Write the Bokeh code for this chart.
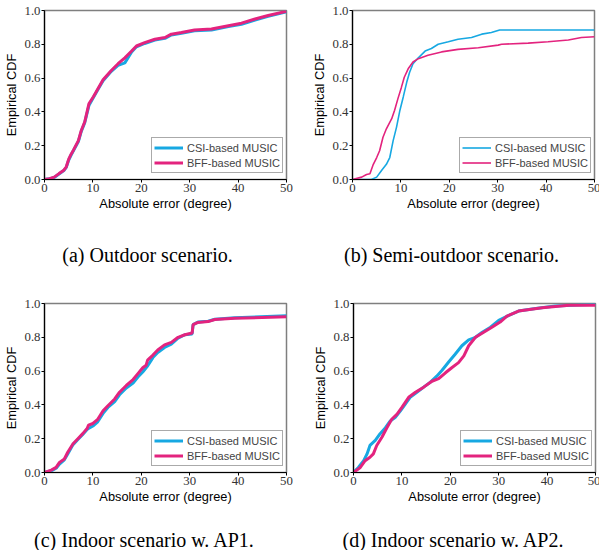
from bokeh.plotting import figure
from bokeh.layouts import column, row
from bokeh.models import Range1d, FixedTicker, PrintfTickFormatter, Legend, LegendItem
from bokeh.core.properties import value
from bokeh.embed import file_html
from bokeh.resources import INLINE

# ---------------- data ----------------
x_ticks = [0, 10, 20, 30, 40, 50]
y_ticks = [0.0, 0.2, 0.4, 0.6, 0.8, 1.0]
series_names = ["CSI-based MUSIC", "BFF-based MUSIC"]
captions_top = ["(a) Outdoor scenario.", "(b) Semi-outdoor scenario."]
captions_bottom = ["(c) Indoor scenario w. AP1.", "(d) Indoor scenario w. AP2."]

# (a) Outdoor
a_x = [0, 1, 2, 3, 4, 4.5, 5, 5.5, 6, 7, 7.6, 8.3, 9.2, 10.1, 11.1, 12.1, 13.8, 15.2, 16.6,
       18, 19, 20.7, 22.8, 24.9, 26.2, 28.3, 31, 34.5, 38, 40.7, 43.5, 46.2, 50]
a_csi = [0, 0.004, 0.012, 0.033, 0.053, 0.072, 0.115, 0.145, 0.172, 0.225, 0.285, 0.335, 0.44,
         0.485, 0.535, 0.585, 0.64, 0.675, 0.69, 0.755, 0.785, 0.805, 0.825, 0.835, 0.855,
         0.865, 0.88, 0.885, 0.905, 0.918, 0.944, 0.965, 0.993]
a_bff = [0, 0.005, 0.014, 0.035, 0.055, 0.075, 0.12, 0.15, 0.175, 0.23, 0.29, 0.34, 0.45,
         0.49, 0.54, 0.59, 0.645, 0.685, 0.72, 0.76, 0.79, 0.81, 0.83, 0.84, 0.86,
         0.87, 0.885, 0.89, 0.91, 0.925, 0.95, 0.97, 0.995]

# (b) Semi-outdoor
b_csi_x = [0, 3.9, 5.0, 6.0, 7.0, 7.7, 8.4, 9.1, 9.8, 10.5, 11.2, 11.8, 12.5, 13.6, 15.0,
           16.3, 17.7, 19.8, 21.8, 24.6, 26.7, 28.7, 30.4, 50]
b_csi_y = [0, 0, 0.014, 0.053, 0.09, 0.13, 0.23, 0.31, 0.41, 0.49, 0.575, 0.635, 0.685, 0.72,
           0.76, 0.775, 0.80, 0.815, 0.83, 0.84, 0.86, 0.87, 0.885, 0.885]
b_bff_x = [0, 1.9, 2.9, 3.6, 4.3, 5.0, 5.6, 6.3, 7.0, 8.1, 8.7, 9.4, 10.1, 10.7, 11.5, 12.5,
           13.6, 15.6, 18.4, 21.8, 26, 30.1, 30.8, 36.3, 40.4, 44.6, 47.3, 50]
b_bff_y = [0, 0.014, 0.03, 0.034, 0.09, 0.13, 0.17, 0.25, 0.30, 0.36, 0.41, 0.48, 0.545, 0.605,
           0.655, 0.695, 0.715, 0.735, 0.755, 0.77, 0.78, 0.795, 0.80, 0.807, 0.815, 0.825,
           0.84, 0.845]

# (c) Indoor AP1
c_x = [0, 1.4, 2.4, 3.1, 4.1, 4.8, 5.9, 6.9, 7.9, 8.8, 9.1, 10, 11, 12.1, 13.1, 14.5, 15.5,
       16.9, 18.3, 19.3, 20.3, 21, 21.3, 22.4, 23.4, 24.8, 26.2, 27.6, 29, 30.5, 30.7, 31.7,
       33.8, 35.2, 39.3, 50]
c_csi = [0, 0.01, 0.025, 0.05, 0.075, 0.11, 0.165, 0.195, 0.225, 0.255, 0.26, 0.275, 0.30,
         0.35, 0.385, 0.42, 0.46, 0.50, 0.53, 0.565, 0.595, 0.62, 0.63, 0.68, 0.71, 0.74,
         0.76, 0.795, 0.815, 0.82, 0.875, 0.89, 0.895, 0.907, 0.915, 0.927]
c_bff = [0, 0.014, 0.03, 0.06, 0.08, 0.12, 0.17, 0.20, 0.23, 0.26, 0.28, 0.29, 0.315, 0.365,
         0.395, 0.435, 0.475, 0.515, 0.55, 0.585, 0.62, 0.635, 0.665, 0.695, 0.725, 0.755,
         0.77, 0.80, 0.815, 0.825, 0.875, 0.888, 0.893, 0.905, 0.913, 0.921]

# (d) Indoor AP2
d_csi_x = [0, 1.0, 2.1, 2.8, 3.4, 4.5, 5.5, 6.6, 7.6, 8.6, 9.7, 10.7, 11.7, 13.1, 14.5, 15.9,
           17.2, 18.3, 19.7, 21, 22.4, 23.8, 25.2, 26.6, 28.3, 30, 32.1, 34.1, 37.6, 41.7, 50]
d_csi_y = [0, 0.03, 0.07, 0.11, 0.16, 0.19, 0.23, 0.265, 0.305, 0.325, 0.365, 0.405, 0.445,
           0.475, 0.505, 0.535, 0.57, 0.605, 0.655, 0.70, 0.75, 0.785, 0.80, 0.83, 0.86, 0.90,
           0.93, 0.955, 0.97, 0.985, 0.995]
d_bff_x = [0, 1.4, 2.4, 3.4, 4.1, 4.8, 5.9, 6.9, 7.9, 9, 10, 11.4, 12.8, 14.5, 16.2, 17.6, 19,
           20.3, 21.7, 22.8, 23.8, 25.2, 26.9, 28.6, 30.3, 31.7, 34.1, 39, 44.5, 50]
d_bff_y = [0, 0.03, 0.07, 0.09, 0.11, 0.16, 0.21, 0.265, 0.315, 0.345, 0.385, 0.445, 0.475,
           0.505, 0.54, 0.555, 0.59, 0.62, 0.65, 0.69, 0.75, 0.80, 0.83, 0.86, 0.89, 0.925,
           0.955, 0.975, 0.99, 0.99]

CSI_COLOR = "#17a8e2"
BFF_COLOR = "#e3237e"


def make_panel(csi_x, csi_y, bff_x, bff_y, lw, bl, br, bt):
    p = figure(frame_width=242, frame_height=169,
               x_range=Range1d(0, 50), y_range=Range1d(0, 1),
               output_backend="svg", toolbar_location=None,
               min_border_left=bl, min_border_right=br,
               min_border_top=bt, min_border_bottom=40)
    p.grid.visible = False
    p.background_fill_color = "white"
    p.border_fill_color = "white"
    p.outline_line_color = "#7f7f7f"
    p.outline_line_width = 1.5

    p.xaxis.ticker = FixedTicker(ticks=x_ticks)
    p.yaxis.ticker = FixedTicker(ticks=y_ticks)
    p.yaxis.formatter = PrintfTickFormatter(format="%.1f")
    for ax in (p.xaxis[0], p.yaxis[0]):
        ax.axis_line_color = "black"
        ax.axis_line_width = 1.2
        ax.major_tick_line_color = "black"
        ax.major_tick_out = 3
        ax.major_tick_in = 0
        ax.minor_tick_line_color = None
        ax.major_label_standoff = 1
        ax.major_label_text_font = "Liberation Serif"
        ax.major_label_text_font_size = "12.8px"
        ax.major_label_text_color = "#333333"
        ax.axis_label_text_font = "Liberation Sans"
        ax.axis_label_text_font_size = "12.8px"
        ax.axis_label_text_font_style = "normal"
        ax.axis_label_text_color = "black"
    p.xaxis.axis_label = "Absolute error (degree)"
    p.yaxis.axis_label = "Empirical CDF"
    p.xaxis.axis_label_standoff = 1
    p.yaxis.axis_label_standoff = 3

    r1 = p.line(csi_x, csi_y, line_color=CSI_COLOR, line_width=lw)
    r2 = p.line(bff_x, bff_y, line_color=BFF_COLOR, line_width=lw)

    legend = Legend(items=[LegendItem(label=series_names[0], renderers=[r1]),
                           LegendItem(label=series_names[1], renderers=[r2])],
                    location=(107, 6))
    legend.label_text_font = "Liberation Sans"
    legend.label_text_font_size = "11px"
    legend.glyph_width = 29
    legend.glyph_height = 15
    legend.label_height = 15
    legend.label_standoff = 4
    legend.padding = 2
    legend.spacing = 0
    legend.border_line_color = "#555555"
    legend.border_line_width = 1
    legend.background_fill_alpha = 1.0
    p.add_layout(legend)
    return p


def caption_strip(texts, height, centers_x, baseline_y):
    c = figure(width=599, height=height, x_range=Range1d(0, 599), y_range=Range1d(0, height),
               x_axis_location=None, y_axis_location=None, min_border=0,
               output_backend="svg", toolbar_location=None)
    c.grid.visible = False
    c.outline_line_color = None
    c.text(x=centers_x, y=[baseline_y] * len(texts), text=texts,
           text_font=value("Liberation Serif"), text_font_size=value("20px"),
           text_align="center", text_baseline="alphabetic", text_color="black")
    return c


pa = make_panel(a_x, a_csi, a_x, a_bff, 3, 43, 15, 10)
pb = make_panel(b_csi_x, b_csi_y, b_bff_x, b_bff_y, 1.6, 51, 6, 10)
pc = make_panel(c_x, c_csi, c_x, c_bff, 3, 43, 15, 13)
pd = make_panel(d_csi_x, d_csi_y, d_bff_x, d_bff_y, 3, 52, 5, 13)

cap1 = caption_strip(captions_top, 71, [147, 451], 35.5)
cap2 = caption_strip(captions_bottom, 38, [144, 453], 10.5)

layout = column(row(pa, pb), cap1, row(pc, pd), cap2)
open("out.html", "w").write(file_html(layout, INLINE))
